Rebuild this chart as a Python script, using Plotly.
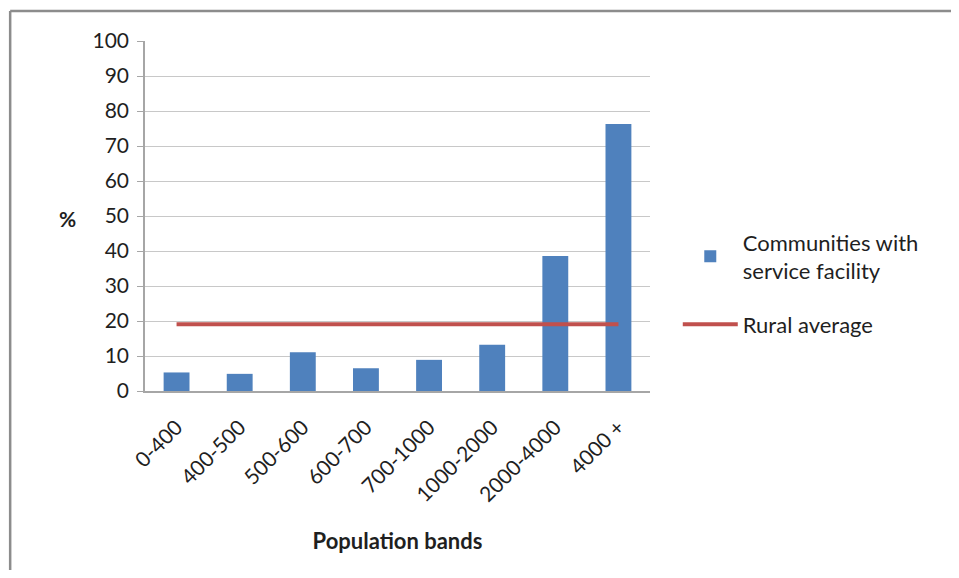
import plotly.graph_objects as go

categories = ["0-400", "400-500", "500-600", "600-700", "700-1000", "1000-2000", "2000-4000", "4000 +"]
communities_pct = [5.3, 4.9, 11.1, 6.5, 8.9, 13.2, 38.6, 76.3]
rural_average = [19.1, 19.1, 19.1, 19.1, 19.1, 19.1, 19.1, 19.1]
y_ticks = [0, 10, 20, 30, 40, 50, 60, 70, 80, 90, 100]

FONT = "Lato, Liberation Sans, sans-serif"
TXT = "#1f1f1f"

fig = go.Figure()
fig.add_trace(go.Bar(
    x=categories, y=communities_pct,
    name="Communities with<br>service facility",
    legendgroup="g1",
    marker=dict(color="#4F81BD", line=dict(width=0)),
))
fig.add_trace(go.Scatter(
    x=categories, y=rural_average, mode="lines",
    name="Rural average",
    legendgroup="g2",
    line=dict(color="#C0504D", width=4),
))

BORDER = dict(color="#8c8c8c", width=2.5)

fig.update_layout(
    width=943, height=562,
    margin=dict(l=137, r=301, t=33, b=179),
    paper_bgcolor="white", plot_bgcolor="white",
    font=dict(family=FONT, size=20, color=TXT),
    bargap=0.59,
    showlegend=True,
    legend=dict(
        x=1.055, y=0.485, xanchor="left", yanchor="top",
        font=dict(size=22, family=FONT, color=TXT),
        itemwidth=55, traceorder="grouped", tracegroupgap=22,
        bgcolor="rgba(0,0,0,0)",
    ),
    xaxis=dict(
        tickangle=-45, showline=True, linecolor="#a6a6a6", linewidth=1.5,
        ticks="", showgrid=False, tickfont=dict(size=21, color=TXT),
        ticklabelstandoff=14,
        title=dict(text="<b>Population bands</b>", font=dict(size=22, color=TXT), standoff=28),
    ),
    yaxis=dict(
        range=[0, 100], tickvals=y_ticks, showline=True, linecolor="#a6a6a6",
        linewidth=1.5, ticks="outside", ticklen=6, tickcolor="#a6a6a6",
        showgrid=True, gridcolor="#c8c8c8", gridwidth=1.2, zeroline=False,
        tickfont=dict(size=21, color=TXT), ticklabelstandoff=4,
    ),
    annotations=[dict(
        text="<b>%</b>", xref="paper", yref="paper", x=-0.174, y=0.494,
        showarrow=False, font=dict(size=21, family=FONT, color=TXT),
    )],
    shapes=[
        dict(type="line", xref="paper", yref="paper",
             x0=-0.267, x1=-0.267, y0=-0.53, y1=1.086, line=BORDER, layer="below"),
        dict(type="line", xref="paper", yref="paper",
             x0=-0.267, x1=1.61, y0=1.086, y1=1.086, line=BORDER, layer="below"),
    ],
)

fig.write_html("out.html")
